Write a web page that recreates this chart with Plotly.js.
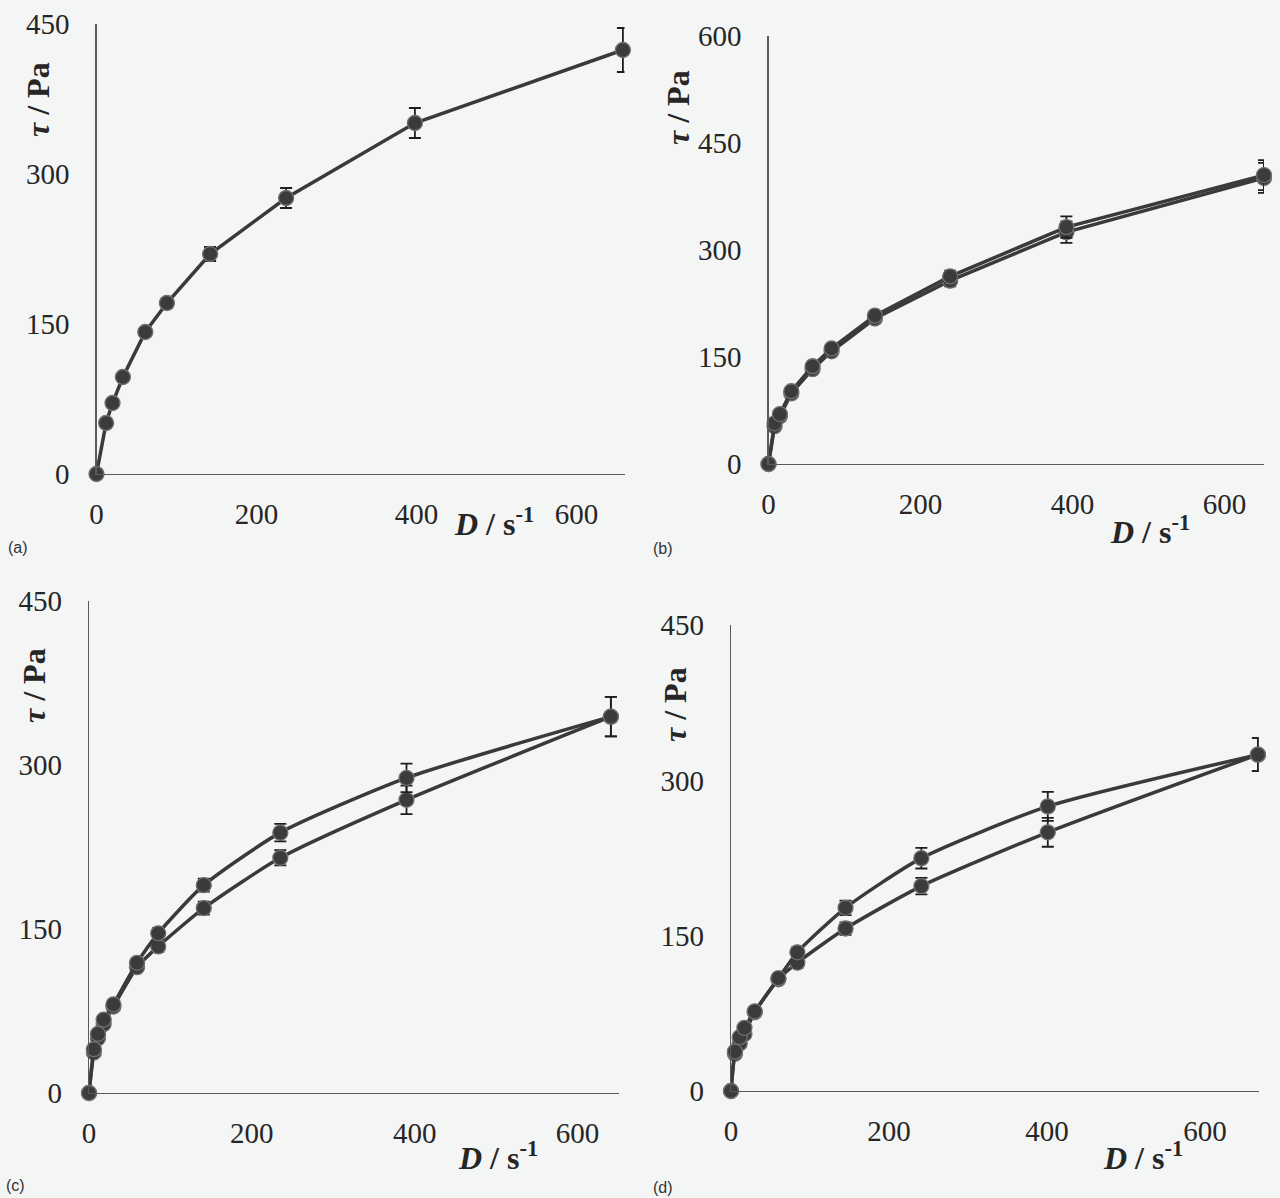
<!DOCTYPE html>
<html>
<head>
<meta charset="utf-8">
<script src="https://cdn.plot.ly/plotly-3.0.1.min.js"></script>
<style>
html,body{margin:0;padding:0;background:#f4f5f5;}
#chart{width:1280px;height:1198px;}
</style>
</head>
<body>
<div id="chart"></div>
<script>
// ---------- data ----------
// panel (a)
const aD   = [0, 12, 20, 33, 61, 88, 142, 237, 398, 658];
const aTau = [0, 51, 71, 97, 142, 171, 220, 276, 351, 424];
const aErr = [0, 3, 3, 3, 4, 5, 7, 10, 15, 22];
// panel (b) – two almost coincident series
const bD    = [0, 8, 15, 30, 58, 83, 140, 239, 392, 652];
const bTau1 = [0, 57, 70, 102, 137, 162, 208, 263, 332, 405];
const bTau2 = [0, 53, 67, 99, 133, 158, 204, 257, 325, 401];
const bErr  = [0, 2, 2, 3, 4, 5, 6, 8, 15, 21];
// panel (c)
const cD    = [0, 6, 11, 18, 30, 59, 85, 141, 235, 390, 641];
const cTau1 = [0, 40, 54, 67, 81, 119, 146, 190, 238, 288, 344];
const cTau2 = [0, 37, 50, 63, 79, 115, 134, 169, 215, 268, 344];
const cErr1 = [0, 2, 2, 3, 3, 4, 5, 6, 8, 13, 18];
const cErr2 = [0, 2, 2, 3, 3, 4, 5, 6, 7, 13, 18];
// panel (d)
const dD    = [0, 5, 11, 17, 30, 60, 84, 145, 241, 401, 667];
const dTau1 = [0, 38, 52, 61, 77, 109, 134, 177, 225, 275, 325];
const dTau2 = [0, 36, 46, 55, 76, 108, 124, 157, 198, 250, 325];
const dErr1 = [0, 2, 2, 3, 3, 4, 5, 7, 10, 14, 16];
const dErr2 = [0, 2, 2, 3, 3, 4, 5, 6, 8, 14, 16];
// ticks & labels
const xTicks  = [0, 200, 400, 600];
const yTicks4 = [0, 150, 300, 450];
const yTicks5 = [0, 150, 300, 450, 600];
const panelLabels = ['(a)', '(b)', '(c)', '(d)'];
const yTitle = '<b><i>τ</i> / Pa</b>';
const xTitle = '<b><i>D</i> / s<sup>-1</sup></b>';

// ---------- styling ----------
const W = 1280, H = 1198;
const px = v => v / W;
const py = v => 1 - v / H;
const serif = 'Liberation Serif';
const lineCol = '#3a3a3a';
function series(x, y, err, xa, ya, shape) {
  return {
    type: 'scatter', mode: 'lines+markers', x: x, y: y,
    xaxis: xa, yaxis: ya, cliponaxis: false, showlegend: false,
    line: {color: lineCol, width: 3.5, shape: shape || 'linear', smoothing: 0.6},
    marker: {size: 15, color: '#3b3b3b', line: {color: '#707070', width: 1.3}},
    error_y: {type: 'data', array: err, visible: true, color: '#1e1e1e', thickness: 1.8, width: 6}
  };
}
const data = [
  series(aD, aTau, aErr, 'x', 'y'),
  series(bD, bTau2, bErr, 'x2', 'y2'),
  series(bD, bTau1, bErr, 'x2', 'y2'),
  series(cD, cTau2, cErr2, 'x3', 'y3', 'spline'),
  series(cD, cTau1, cErr1, 'x3', 'y3', 'spline'),
  series(dD, dTau2, dErr2, 'x4', 'y4', 'spline'),
  series(dD, dTau1, dErr1, 'x4', 'y4', 'spline')
];

function xax(domain, max, anchor) {
  return {domain: domain, range: [0, max], anchor: anchor, tickmode: 'array', tickvals: xTicks,
    showgrid: false, zeroline: false, showline: true, linecolor: '#5a5a5a', linewidth: 1.2,
    ticks: '', ticklabelstandoff: 14, tickfont: {family: serif, size: 29, color: '#262626'}};
}
function yax(domain, max, ticks, anchor) {
  return {domain: domain, range: [0, max], anchor: anchor, tickmode: 'array', tickvals: ticks,
    showgrid: false, zeroline: false, showline: true, linecolor: '#5a5a5a', linewidth: 1.2,
    ticks: '', ticklabelstandoff: 20, tickfont: {family: serif, size: 29, color: '#262626'}};
}

const annotations = [];
function addTitles(yc, xc, lab) {
  annotations.push({xref: 'paper', yref: 'paper', x: px(yc[0]), y: py(yc[1]), text: yTitle,
    textangle: -90, showarrow: false, xanchor: 'center', yanchor: 'middle',
    font: {family: serif, size: 32, color: '#262626'}});
  annotations.push({xref: 'paper', yref: 'paper', x: px(xc[0]), y: py(xc[1]), text: xTitle,
    showarrow: false, xanchor: 'center', yanchor: 'middle',
    font: {family: serif, size: 32, color: '#262626'}});
  annotations.push({xref: 'paper', yref: 'paper', x: px(lab[0]), y: py(lab[1]), text: lab[2],
    showarrow: false, xanchor: 'center', yanchor: 'middle',
    font: {family: 'Liberation Sans', size: 16, color: '#333'}});
}
addTitles([38, 100], [494, 522], [18, 548, panelLabels[0]]);
addTitles([678, 108], [1150, 530], [663, 549, panelLabels[1]]);
addTitles([34, 686], [498, 1156], [15, 1185, panelLabels[2]]);
addTitles([675, 705], [1143, 1156], [663, 1187, panelLabels[3]]);

const layout = {
  width: W, height: H,
  margin: {l: 0, r: 0, t: 0, b: 0},
  paper_bgcolor: '#f4f5f5', plot_bgcolor: 'rgba(0,0,0,0)',
  showlegend: false,
  xaxis:  xax([px(96.5), px(624.5)], 660, 'y'),
  yaxis:  yax([py(474), py(24)], 450, yTicks4, 'x'),
  xaxis2: xax([px(768.5), px(1264)], 652, 'y2'),
  yaxis2: yax([py(464), py(36)], 600, yTicks5, 'x2'),
  xaxis3: xax([px(89), px(619)], 651, 'y3'),
  yaxis3: yax([py(1093), py(600.7)], 450, yTicks4, 'x3'),
  xaxis4: xax([px(731), px(1258.7)], 668, 'y4'),
  yaxis4: yax([py(1091), py(625.3)], 450, yTicks4, 'x4'),
  annotations: annotations
};
Plotly.newPlot('chart', data, layout, {displayModeBar: false, staticPlot: true});
</script>
</body>
</html>
